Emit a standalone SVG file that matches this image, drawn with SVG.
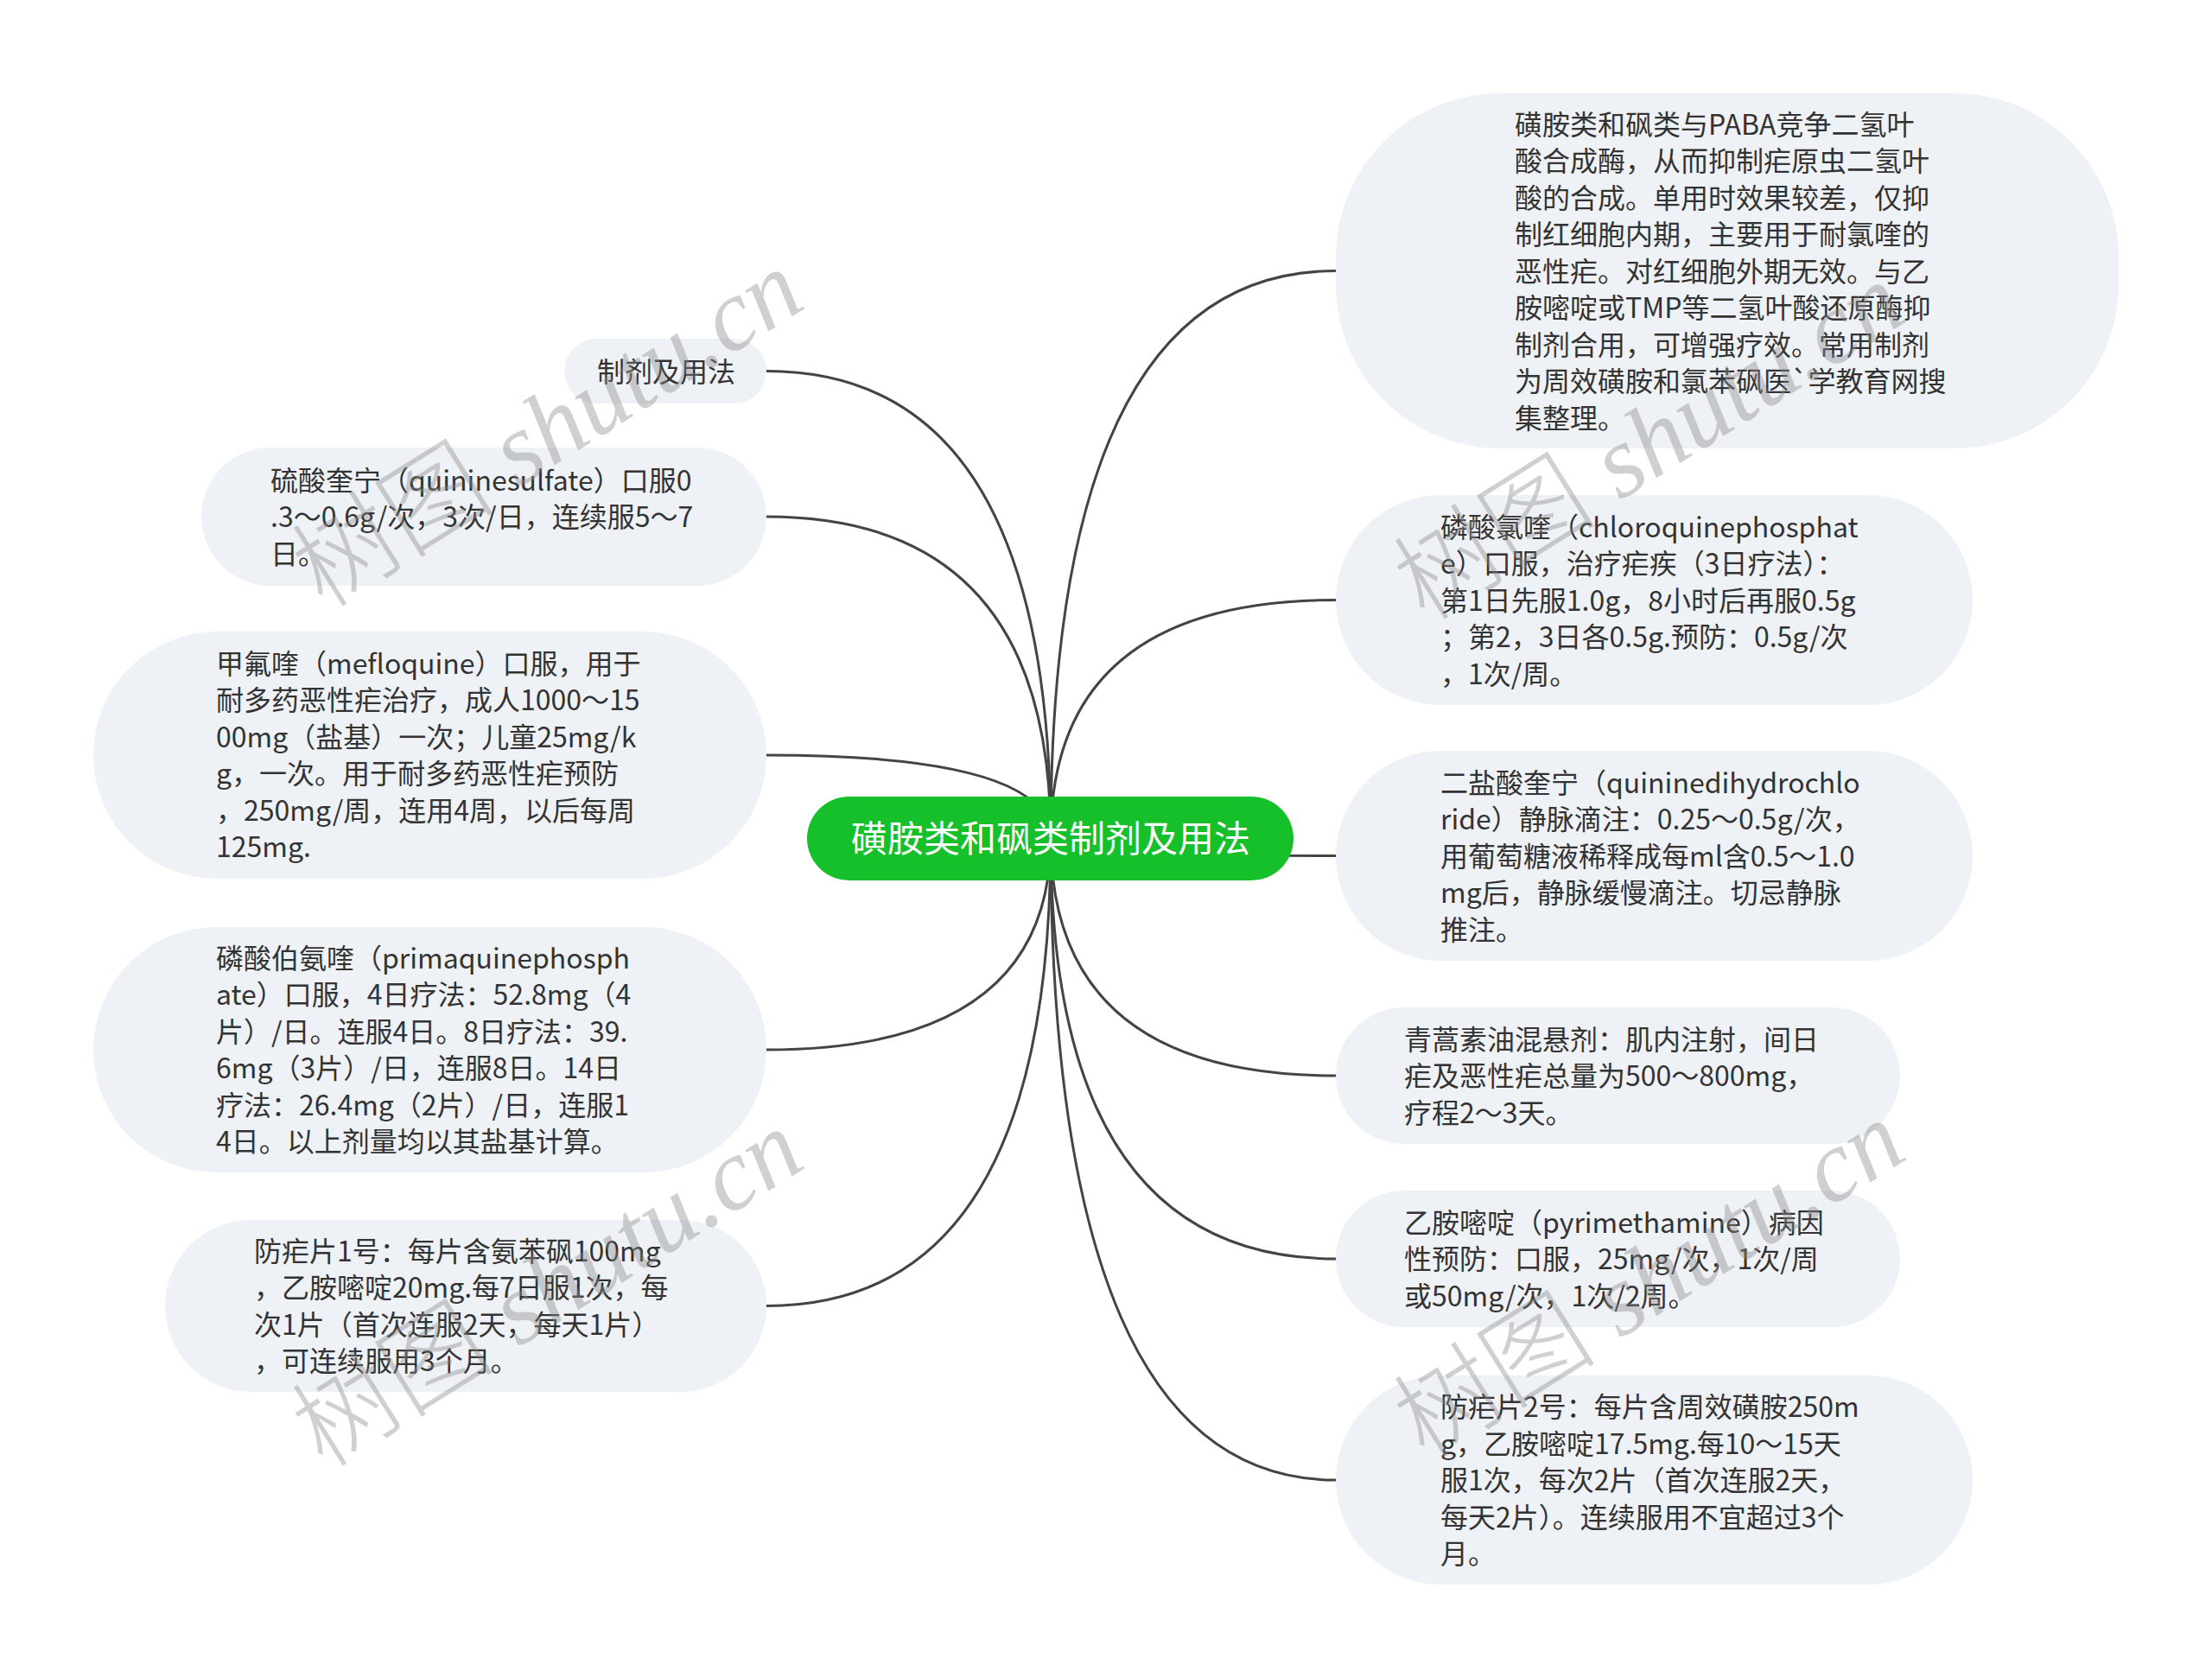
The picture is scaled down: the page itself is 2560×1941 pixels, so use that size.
<svg xmlns="http://www.w3.org/2000/svg" width="2560" height="1941" viewBox="0 0 2560 1941">
<style>
.bg{fill:#ffffff}
.link{fill:none;stroke:#444444;stroke-width:3}
.box{fill:#eef1f5}
.t{font-family:"Noto Sans CJK SC","Noto Sans",sans-serif;font-size:32px;fill:#333333}
.root{fill:#16c02a}
.rt{font-family:"Noto Sans CJK SC","Noto Sans",sans-serif;font-size:42px;fill:#ffffff}
.wm{font-size:118px;fill:#8a8a8a;fill-opacity:0.4}
.wmc{font-family:"Noto Sans CJK SC",sans-serif;font-weight:300}
.wml{font-family:"Liberation Serif",serif;font-style:italic}
</style>
<rect class="bg" x="0" y="0" width="2560" height="1941"/>
<g id="connectors">
<path class="link" d="M1216 970 Q1216 313.5 1546 313.5"/>
<path class="link" d="M1216 970 Q1216 694.5 1546 694.5"/>
<path class="link" d="M1216 970 Q1216 990.5 1546 990.5"/>
<path class="link" d="M1216 970 Q1216 1245 1546 1245"/>
<path class="link" d="M1216 970 Q1216 1457 1546 1457"/>
<path class="link" d="M1216 970 Q1216 1713 1546 1713"/>
<path class="link" d="M1216 970 Q1216 429.5 887 429.5"/>
<path class="link" d="M1216 970 Q1216 598 887 598"/>
<path class="link" d="M1216 970 Q1216 874 887 874"/>
<path class="link" d="M1216 970 Q1216 1215 887 1215"/>
<path class="link" d="M1216 970 Q1216 1511.5 887 1511.5"/>
</g>
<g id="root">
<rect class="root" x="934" y="922" width="563" height="97" rx="48.5"/>
<text class="rt" x="1216" y="986" text-anchor="middle">磺胺类和砜类制剂及用法</text>
</g>
<g id="r1">
<rect class="box" x="1546" y="108" width="906" height="411" rx="190"/>
<text class="t" x="1753"><tspan x="1753" y="155.5">磺胺类和砜类与PABA竞争二氢叶</tspan><tspan x="1753" y="198">酸合成酶，从而抑制疟原虫二氢叶</tspan><tspan x="1753" y="240.5">酸的合成。单用时效果较差，仅抑</tspan><tspan x="1753" y="283">制红细胞内期，主要用于耐氯喹的</tspan><tspan x="1753" y="325.5">恶性疟。对红细胞外期无效。与乙</tspan><tspan x="1753" y="368">胺嘧啶或TMP等二氢叶酸还原酶抑</tspan><tspan x="1753" y="410.5">制剂合用，可增强疗效。常用制剂</tspan><tspan x="1753" y="453">为周效磺胺和氯苯砜医`学教育网搜</tspan><tspan x="1753" y="495.5">集整理。</tspan></text>
</g>
<g id="r2">
<rect class="box" x="1546" y="573" width="737" height="243" rx="121.5"/>
<text class="t"><tspan x="1667" y="621.5">磷酸氯喹（chloroquinephosphat</tspan><tspan x="1667" y="664">e）口服，治疗疟疾（3日疗法）：</tspan><tspan x="1667" y="706.5">第1日先服1.0g，8小时后再服0.5g</tspan><tspan x="1667" y="749">；第2，3日各0.5g.预防：0.5g/次</tspan><tspan x="1667" y="791.5">，1次/周。</tspan></text>
</g>
<g id="r3">
<rect class="box" x="1546" y="869" width="737" height="243" rx="121.5"/>
<text class="t"><tspan x="1667" y="917.5">二盐酸奎宁（quininedihydrochlo</tspan><tspan x="1667" y="960">ride）静脉滴注：0.25～0.5g/次，</tspan><tspan x="1667" y="1002.5">用葡萄糖液稀释成每ml含0.5～1.0</tspan><tspan x="1667" y="1045">mg后，静脉缓慢滴注。切忌静脉</tspan><tspan x="1667" y="1087.5">推注。</tspan></text>
</g>
<g id="r4">
<rect class="box" x="1546" y="1166" width="653" height="158" rx="79"/>
<text class="t"><tspan x="1625" y="1214.5">青蒿素油混悬剂：肌内注射，间日</tspan><tspan x="1625" y="1257">疟及恶性疟总量为500～800mg，</tspan><tspan x="1625" y="1299.5">疗程2～3天。</tspan></text>
</g>
<g id="r5">
<rect class="box" x="1546" y="1378" width="653" height="158" rx="79"/>
<text class="t"><tspan x="1625" y="1426.5">乙胺嘧啶（pyrimethamine）病因</tspan><tspan x="1625" y="1469">性预防：口服，25mg/次，1次/周</tspan><tspan x="1625" y="1511.5">或50mg/次，1次/2周。</tspan></text>
</g>
<g id="r6">
<rect class="box" x="1546" y="1592" width="737" height="242" rx="121"/>
<text class="t"><tspan x="1667" y="1640">防疟片2号：每片含周效磺胺250m</tspan><tspan x="1667" y="1682.5">g，乙胺嘧啶17.5mg.每10～15天</tspan><tspan x="1667" y="1725">服1次，每次2片（首次连服2天，</tspan><tspan x="1667" y="1767.5">每天2片）。连续服用不宜超过3个</tspan><tspan x="1667" y="1810">月。</tspan></text>
</g>
<g id="l1">
<rect class="box" x="653" y="392" width="234" height="75" rx="37.5"/>
<text class="t" x="691" y="441.5">制剂及用法</text>
</g>
<g id="l2">
<rect class="box" x="233" y="518" width="654" height="160" rx="80"/>
<text class="t"><tspan x="313" y="567.5">硫酸奎宁（quininesulfate）口服0</tspan><tspan x="313" y="610">.3～0.6g/次，3次/日，连续服5～7</tspan><tspan x="313" y="652.5">日。</tspan></text>
</g>
<g id="l3">
<rect class="box" x="108" y="731" width="779" height="286" rx="143"/>
<text class="t"><tspan x="250" y="779.75">甲氟喹（mefloquine）口服，用于</tspan><tspan x="250" y="822.25">耐多药恶性疟治疗，成人1000～15</tspan><tspan x="250" y="864.75">00mg（盐基）一次；儿童25mg/k</tspan><tspan x="250" y="907.25">g，一次。用于耐多药恶性疟预防</tspan><tspan x="250" y="949.75">，250mg/周，连用4周，以后每周</tspan><tspan x="250" y="992.25">125mg.</tspan></text>
</g>
<g id="l4">
<rect class="box" x="108" y="1073" width="779" height="284" rx="142"/>
<text class="t"><tspan x="250" y="1120.75">磷酸伯氨喹（primaquinephosph</tspan><tspan x="250" y="1163.25">ate）口服，4日疗法：52.8mg（4</tspan><tspan x="250" y="1205.75">片）/日。连服4日。8日疗法：39.</tspan><tspan x="250" y="1248.25">6mg（3片）/日，连服8日。14日</tspan><tspan x="250" y="1290.75">疗法：26.4mg（2片）/日，连服1</tspan><tspan x="250" y="1333.25">4日。以上剂量均以其盐基计算。</tspan></text>
</g>
<g id="l5">
<rect class="box" x="191" y="1412" width="696" height="199" rx="99.5"/>
<text class="t"><tspan x="294" y="1459.75">防疟片1号：每片含氨苯砜100mg</tspan><tspan x="294" y="1502.25">，乙胺嘧啶20mg.每7日服1次，每</tspan><tspan x="294" y="1544.75">次1片（首次连服2天，每天1片）</tspan><tspan x="294" y="1587.25">，可连续服用3个月。</tspan></text>
</g>
<g id="watermarks" class="wm">
<text transform="translate(655 530) rotate(-32)" text-anchor="middle"><tspan class="wmc">树图</tspan><tspan class="wml"> shutu.cn</tspan></text>
<text transform="translate(1930 545) rotate(-32)" text-anchor="middle"><tspan class="wmc">树图</tspan><tspan class="wml"> shutu.cn</tspan></text>
<text transform="translate(655 1525) rotate(-32)" text-anchor="middle"><tspan class="wmc">树图</tspan><tspan class="wml"> shutu.cn</tspan></text>
<text transform="translate(1930 1515) rotate(-32)" text-anchor="middle"><tspan class="wmc">树图</tspan><tspan class="wml"> shutu.cn</tspan></text>
</g>
</svg>
